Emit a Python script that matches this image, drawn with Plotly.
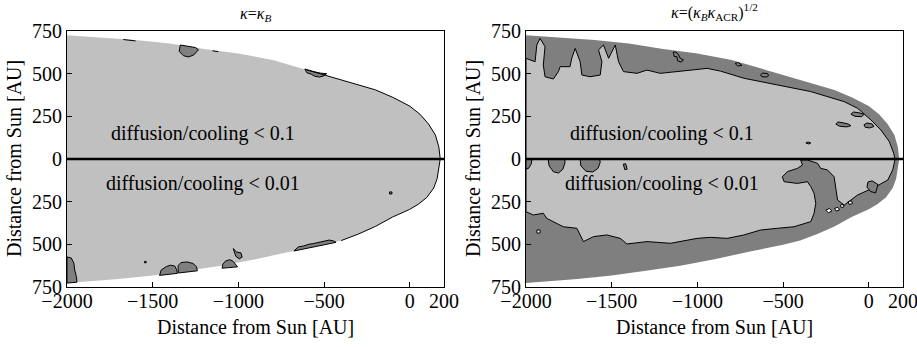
import plotly.graph_objects as go

# ---------------- data (AU) ----------------
# outer boundary of the region (top half, from tail to nose)
top_x = [-2000, -1800, -1600, -1400, -1200, -1000, -800, -600, -450, -300, -200, -100, 0, 60, 110, 150, 170, 178]
top_y = [725, 712, 697, 677, 645, 618, 580, 522, 478, 435, 405, 362, 310, 262, 205, 140, 70, 0]
# bottom half, from nose back to tail
bot_x = [172, 160, 140, 100, 50, 0, -100, -200, -300, -400, -500, -600, -700, -900, -1100, -1300, -1500, -1700, -2000]
bot_y = [-50, -115, -170, -225, -265, -295, -340, -395, -440, -478, -503, -521, -543, -588, -625, -655, -683, -703, -727]

# left panel: dark patches (ratio > 0.1 / > 0.01)
left_patches = [
    ([-1339, -1345, -1320, -1290, -1260, -1233, -1250, -1300], [668, 630, 605, 598, 610, 640, 653, 662]),
    ([-612, -600, -575, -555, -525, -500, -485, -520, -560], [527, 505, 497, 485, 480, 488, 500, 503, 512]),
    ([-2000, -1975, -1960, -1955, -1945, -1942, -2000], [-574, -580, -610, -650, -690, -722, -727]),
    ([-1460, -1450, -1420, -1395, -1370, -1360, -1356], [-682, -650, -630, -622, -628, -650, -670]),
    ([-1350, -1352, -1335, -1300, -1265, -1245, -1239], [-668, -625, -607, -603, -612, -630, -655]),
    ([-1095, -1090, -1075, -1050, -1030, -1010, -1005], [-640, -615, -598, -590, -600, -625, -632]),
    ([-1030, -1010, -985, -978, -995, -1015], [-525, -545, -550, -575, -585, -570]),
    ([-676, -650, -620, -590, -560, -530, -500, -470, -445, -430, -500, -600],
     [-539, -515, -510, -500, -495, -488, -478, -475, -480, -488, -503, -521]),
    ([-118, -104, -104, -118], [-193, -193, -205, -205]),
    ([-1548, -1538, -1538, -1548], [-600, -600, -608, -608]),
]
# left panel: short contour fragments hugging the boundary
left_frag_x = [-1672, -1600, None, -1151, -1117, None]
left_frag_y = [700, 692, None, 634, 629, None]

# right panel: inner contour (diffusion/cooling < 0.1 region), closed loop
inner_top_x = [-2000, -1947, -1937, -1918, -1889, -1899, -1889, -1840, -1811, -1801, -1743, -1733,
               -1713, -1684, -1674, -1626, -1567, -1557, -1577, -1548, -1518, -1479, -1460, -1431,
               -1352, -1294, -1216, -1118, -1021, -943, -865, -728, -533, -338, -143, -65, 13, 71,
               120, 146, 153]
inner_top_y = [590, 570, 668, 707, 658, 551, 482, 469, 512, 541, 541, 590, 648, 570, 492, 482,
               492, 570, 639, 668, 590, 668, 570, 512, 502, 521, 502, 512, 521, 531, 515, 473,
               434, 395, 336, 297, 229, 170, 102, 33, -6]
inner_bot_x = [140, 111, 42, -65, -143, -182, -192, -202, -241, -280, -299, -358, -397, -387,
               -416, -475, -504, -494, -416, -358, -338, -319, -309, -319, -338, -436, -533,
               -631, -728, -826, -923, -1001, -1157, -1294, -1411, -1450, -1528, -1606, -1665,
               -1684, -1703, -1782, -1879, -1899, -1957, -2000]
inner_bot_y = [-64, -123, -162, -211, -270, -240, -162, -104, -64, -55, -25, -6, -6, -35, -55,
               -74, -104, -133, -143, -133, -162, -201, -260, -318, -367, -397, -406, -416,
               -445, -465, -459, -465, -494, -484, -498, -465, -445, -455, -484, -445, -406,
               -397, -348, -318, -328, -309]

# right panel: dark islands inside the light region
right_patches = [
    ([-631, -620, -590, -584, -600, -625], [492, 504, 500, 488, 480, 483]),
    ([-192, -180, -150, -120, -104, -130, -170], [205, 217, 212, 205, 195, 188, 192]),
    ([-104, -90, -60, -28, -40, -80], [262, 275, 272, 262, 248, 250]),
    ([-28, -10, 20, 30, 5, -20], [200, 211, 205, 190, 182, 186]),
    ([-367, -355, -338, -350], [94, 100, 94, 88]),
    ([-1140, -1135, -1120, -1115, -1095, -1081, -1100, -1110, -1125], [627, 600, 600, 575, 568, 580, 590, 610, 627]),
    ([-2000, -2000, -1985, -1970, -1965], [0, -59, -55, -30, 0]),
    ([-1871, -1865, -1840, -1810, -1785, -1772, -1775], [0, -40, -75, -82, -60, -20, 0]),
    ([-1684, -1680, -1650, -1610, -1580, -1567, -1570], [0, -40, -72, -76, -55, -20, 0]),
    ([-5, 20, 54, 40, 10, -10], [-135, -128, -150, -199, -190, -165]),
    ([-1432, -1418, -1410, -1424], [-30, -28, -60, -62]),
    ([-780, -760, -740, -765], [560, 565, 548, 545]),
]
# right panel: light/white holes inside the dark region
right_holes = [
    ([-1936, -1918, -1918, -1936], [-416, -416, -434, -434]),
    ([-250, -230, -215, -235], [-300, -290, -305, -315]),
    ([-200, -180, -170, -190], [-290, -283, -298, -305]),
    ([-165, -150, -145, -160], [-270, -265, -280, -285]),
    ([-120, -100, -95, -115], [-250, -245, -262, -266]),
]

x_ticks = [-2000, -1500, -1000, -500, 0, 200]
x_ticktext = ["\u22122000", "\u22121500", "\u22121000", "\u2212500", "0", "200"]
y_ticks = [-750, -500, -250, 0, 250, 500, 750]
y_ticktext = ["750", "500", "250", "0", "250", "500", "750"]
x_range = [-2000, 200]
y_range = [-750, 750]

LIGHT = "#c0c0c0"
DARK = "#7f7f7f"
FONT = "Liberation Serif"

outer_x = top_x + bot_x
outer_y = top_y + bot_y

fig = go.Figure()


def poly(xs, ys, fill, xa, ya, line_w=1.0, line_col="black"):
    fig.add_trace(go.Scatter(
        x=list(xs) + [xs[0]], y=list(ys) + [ys[0]], mode="lines", fill="toself",
        fillcolor=fill, line=dict(color=line_col, width=line_w),
        xaxis=xa, yaxis=ya, hoverinfo="skip", showlegend=False))


# ---------- left panel ----------
poly(outer_x, outer_y, LIGHT, "x", "y", line_w=0, line_col=LIGHT)
for px, py in left_patches:
    poly(px, py, DARK, "x", "y", line_w=1)
bx = [t for t in top_x if t >= -700] + [t for t in bot_x if t >= -430]
by = [top_y[i] for i, t in enumerate(top_x) if t >= -700] + [bot_y[i] for i, t in enumerate(bot_x) if t >= -430]
fig.add_trace(go.Scatter(x=bx, y=by, mode="lines", line=dict(color="black", width=1),
                         xaxis="x", yaxis="y", hoverinfo="skip", showlegend=False))
fig.add_trace(go.Scatter(x=left_frag_x, y=left_frag_y, mode="lines", line=dict(color="black", width=1),
                         xaxis="x", yaxis="y", hoverinfo="skip", showlegend=False))
fig.add_trace(go.Scatter(x=x_range, y=[0, 0], mode="lines", line=dict(color="black", width=2.5),
                         xaxis="x", yaxis="y", hoverinfo="skip", showlegend=False))

# ---------- right panel ----------
poly(outer_x, outer_y, DARK, "x2", "y2", line_w=0, line_col=DARK)
poly(inner_top_x + inner_bot_x, inner_top_y + inner_bot_y, LIGHT, "x2", "y2", line_w=1)
for px, py in right_patches:
    poly(px, py, DARK, "x2", "y2", line_w=1)
for px, py in right_holes:
    poly(px, py, "white", "x2", "y2", line_w=1)
fig.add_trace(go.Scatter(x=x_range, y=[0, 0], mode="lines", line=dict(color="black", width=2.5),
                         xaxis="x2", yaxis="y2", hoverinfo="skip", showlegend=False))

axis_common = dict(showgrid=False, zeroline=False, showline=True, linecolor="black", linewidth=1,
                   mirror=True, ticks="inside", ticklen=5, tickcolor="black", automargin=False,
                   ticklabeloverflow="allow",
                   tickfont=dict(family=FONT, size=20, color="black"))

XD1 = [67 / 917, 444 / 917]
XD2 = [526 / 917, 903 / 917]
YD = [1 - 287 / 347, 1 - 31 / 347]

fig.update_layout(
    template="none",
    width=917, height=347, margin=dict(l=0, r=0, t=0, b=0, autoexpand=False),
    font=dict(family=FONT, size=20, color="black"),
    paper_bgcolor="white", plot_bgcolor="white", showlegend=False,
    xaxis=dict(domain=XD1, range=x_range, tickvals=x_ticks, ticktext=x_ticktext, anchor="y",
               ticklabelstandoff=-4, **axis_common),
    yaxis=dict(domain=YD, range=y_range, tickvals=y_ticks, ticktext=y_ticktext, anchor="x", **axis_common),
    xaxis2=dict(domain=XD2, range=x_range, tickvals=x_ticks, ticktext=x_ticktext, anchor="y2",
                ticklabelstandoff=-4, **axis_common),
    yaxis2=dict(domain=YD, range=y_range, tickvals=y_ticks, ticktext=y_ticktext, anchor="x2", **axis_common),
)

tf = dict(family=FONT, size=20, color="black")
ann = []
for xr, yr in (("x", "y"), ("x2", "y2")):
    ann.append(dict(x=-1206, y=152, xref=xr, yref=yr, text="diffusion/cooling &lt; 0.1",
                    showarrow=False, font=tf, xanchor="center", yanchor="middle"))
    ann.append(dict(x=-1206, y=-141, xref=xr, yref=yr, text="diffusion/cooling &lt; 0.01",
                    showarrow=False, font=tf, xanchor="center", yanchor="middle"))
for xd in (XD1, XD2):
    ann.append(dict(x=(xd[0] + xd[1]) / 2, y=1 - 327 / 347, xref="paper", yref="paper",
                    text="Distance from Sun [AU]", showarrow=False, font=tf,
                    xanchor="center", yanchor="middle"))
ann.append(dict(x=14 / 917, y=1 - 159 / 347, xref="paper", yref="paper", textangle=-90,
                text="Distance from Sun [AU]", showarrow=False, font=tf,
                xanchor="center", yanchor="middle"))
ann.append(dict(x=473 / 917, y=1 - 159 / 347, xref="paper", yref="paper", textangle=-90,
                text="Distance from Sun [AU]", showarrow=False, font=tf,
                xanchor="center", yanchor="middle"))
ttl = dict(family=FONT, size=16, color="black")
ann.append(dict(x=(XD1[0] + XD1[1]) / 2, y=1 - 14 / 347, xref="paper", yref="paper",
                text="<i>\u03ba</i>=<i>\u03ba</i><sub><i>B</i></sub>", showarrow=False, font=ttl,
                xanchor="center", yanchor="middle"))
ann.append(dict(x=(XD2[0] + XD2[1]) / 2, y=1 - 12 / 347, xref="paper", yref="paper",
                text="<i>\u03ba</i>=(<i>\u03ba</i><sub><i>B</i></sub><i>\u03ba</i><sub>ACR</sub>)<sup>1/2</sup>",
                showarrow=False, font=ttl, xanchor="center", yanchor="middle"))
fig.update_layout(annotations=ann)

fig.write_html("out.html")
